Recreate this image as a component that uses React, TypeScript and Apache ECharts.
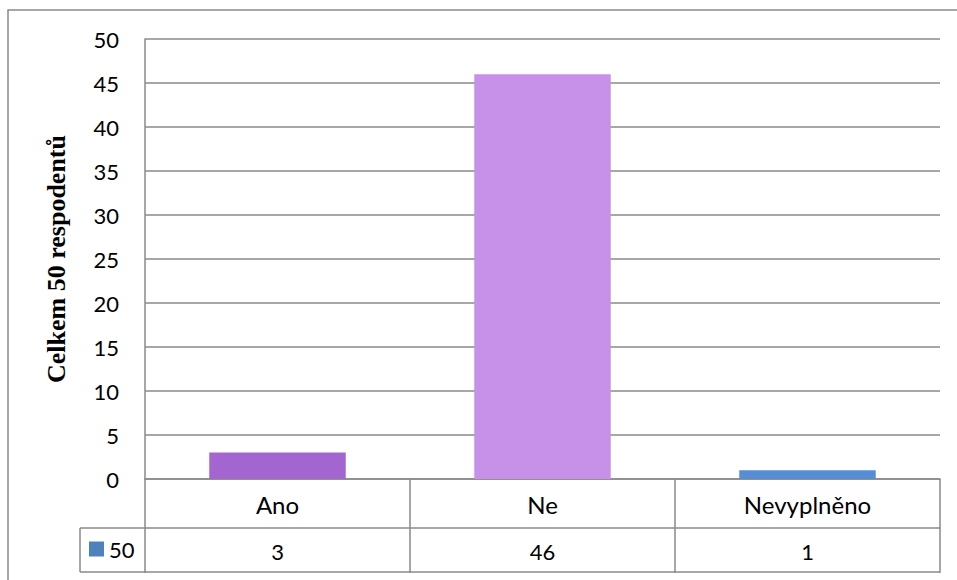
import React, { useEffect, useRef } from "react";
import * as echarts from "echarts";

// Survey answers and their counts
const categories = ["Ano", "Ne", "Nevyplněno"];
const counts = [3, 46, 1];
const barColors = ["#A366D1", "#C891E9", "#558ED5"];
const seriesName = "50";
const axisTitle = "Celkem 50 respodentů";

const LINE = "#8A8A8A";
const FONT = "Lato, 'Open Sans', sans-serif";

export default function App() {
  const ref = useRef<HTMLDivElement>(null);

  useEffect(() => {
    if (!ref.current) return;
    const chart = echarts.init(ref.current, null, { renderer: "svg" });

    chart.setOption({
      animation: false,
      backgroundColor: "#ffffff",
      grid: { left: 145, right: 17, top: 39, bottom: 101, containLabel: false },
      legend: {
        show: true,
        left: 89,
        top: 538,
        padding: 0,
        itemWidth: 15,
        itemHeight: 15,
        itemGap: 4,
        icon: "rect",
        textStyle: { fontFamily: FONT, fontSize: 22, color: "#000", lineHeight: 22 },
        data: [seriesName],
      },
      xAxis: [
        {
          type: "category",
          data: categories,
          position: "bottom",
          axisLine: { show: true, lineStyle: { color: LINE, width: 1.5 } },
          axisTick: { show: true, interval: 0, length: 94, lineStyle: { color: LINE, width: 1.5 } },
          axisLabel: { interval: 0, margin: 12, lineHeight: 26, fontFamily: FONT, fontSize: 24, color: "#000" },
        },
        {
          // value row of the data table
          type: "category",
          data: counts.map(String),
          position: "bottom",
          offset: 49,
          axisLine: { show: true, lineStyle: { color: LINE, width: 1.5 } },
          axisTick: { show: false },
          axisLabel: { interval: 0, margin: 11, lineHeight: 24, fontFamily: FONT, fontSize: 22, color: "#000" },
        },
      ],
      yAxis: {
        type: "value",
        min: 0,
        max: 50,
        interval: 5,
        name: axisTitle,
        nameLocation: "middle",
        nameGap: 76,
        nameTextStyle: {
          fontFamily: "'Liberation Serif', 'Times New Roman', serif",
          fontWeight: "bold",
          fontSize: 26,
          color: "#000",
        },
        axisLine: { show: true, lineStyle: { color: LINE, width: 1.5 } },
        axisTick: { show: false },
        splitLine: { show: true, lineStyle: { color: LINE, width: 1.5 } },
        axisLabel: { margin: 26, fontFamily: FONT, fontSize: 22, color: "#000" },
      },
      series: [
        {
          name: seriesName,
          type: "bar",
          xAxisIndex: 0,
          barWidth: "51.5%",
          itemStyle: { color: "#4F81BD" },
          data: counts.map((v, i) => ({ value: v, itemStyle: { color: barColors[i] } })),
        },
      ],
      graphic: [
        // outer chart frame
        {
          type: "rect",
          shape: { x: 8, y: 10, width: 1200, height: 1200 },
          style: { fill: "none", stroke: LINE, lineWidth: 1.5 },
          silent: true,
        },
        // legend cell of the data table
        {
          type: "line",
          shape: { x1: 80, y1: 528, x2: 145, y2: 528 },
          style: { stroke: LINE, lineWidth: 1.5 },
        },
        {
          type: "line",
          shape: { x1: 80, y1: 572, x2: 940, y2: 572 },
          style: { stroke: LINE, lineWidth: 1.5 },
        },
        {
          type: "line",
          shape: { x1: 80, y1: 528, x2: 80, y2: 572 },
          style: { stroke: LINE, lineWidth: 1.5 },
        },
      ],
    });

    return () => chart.dispose();
  }, []);

  return <div ref={ref} style={{ width: 957, height: 580, position: "absolute", left: 0, top: 0 }} />;
}
